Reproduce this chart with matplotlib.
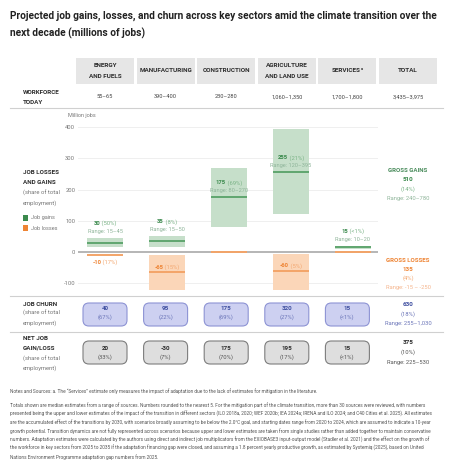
import matplotlib
matplotlib.use('Agg')
import matplotlib.pyplot as plt
from matplotlib import font_manager
from matplotlib.patches import FancyBboxPatch, Rectangle
from matplotlib.transforms import offset_copy

# ---------------- data ----------------
sectors = ['ENERGY\nAND FUELS', 'MANUFACTURING', 'CONSTRUCTION', 'AGRICULTURE\nAND LAND USE', 'SERVICES']
sector_note = ['', '', '', '', 'a']
workforce = ['55–65', '390–400', '230–280', '1,060–1,350', '1,700–1,800']
workforce_total = '3,435–3,975'

gain_med = [30, 35, 175, 255, 15]
gain_low = [15, 15, 80, 120, 10]
gain_high = [45, 50, 270, 395, 20]
gain_share = ['50%', '8%', '69%', '21%', '<1%']

loss_med = [-10, -65, 0, -60, 0]
loss_top = [-10, -10, 0, -5, 0]
loss_bottom = [-10, -130, 0, -130, 0]
loss_share = ['17%', '15%', '', '5%', '']

churn = [40, 95, 175, 320, 15]
churn_share = ['67%', '22%', '69%', '27%', '<1%']
net = [20, -30, 175, 195, 15]
net_share = ['33%', '7%', '70%', '17%', '<1%']

gross_gain_value, gross_gain_share, gross_gain_range = 510, '14%', '240–780'
gross_loss_value, gross_loss_share, gross_loss_range = 135, '4%', '-15 – -250'
churn_total, churn_total_share, churn_total_range = 630, '18%', '255–1,030'
net_total, net_total_share, net_total_range = 375, '10%', '225–530'

yticks = [-100, 0, 100, 200, 300, 400]

title_lines = ['Projected job gains, losses, and churn across key sectors amid the climate transition over the',
               'next decade (millions of jobs)']
notes = [
    'Notes and Sources: a. The “Services” estimate only measures the impact of adaptation due to the lack of estimates for mitigation in the literature.',
    'Totals shown are median estimates from a range of sources. Numbers rounded to the nearest 5. For the mitigation part of the climate transition, more than 30 sources were reviewed, with numbers',
    'presented being the upper and lower estimates of the impact of the transition in different sectors (ILO 2018a, 2020; WEF 2020b; IEA 2024a; IRENA and ILO 2024; and C40 Cities et al. 2025). All estimates',
    'are the accumulated effect of the transitions by 2030, with scenarios broadly assuming to be below the 2.0°C goal, and starting dates range from 2020 to 2024, which are assumed to indicate a 10-year',
    'growth potential. Transition dynamics are not fully represented across scenarios because upper and lower estimates are taken from single studies rather than added together to maintain conservative',
    'numbers. Adaptation estimates were calculated by the authors using direct and indirect job multiplicators from the EXIOBASE3 input-output model (Stadler et al. 2021) and the effect on the growth of',
    'the workforce in key sectors from 2025 to 2035 if the adaptation financing gap were closed, and assuming a 1.8 percent yearly productive growth, as estimated by Systemiq (2025), based on United',
    'Nations Environment Programme adaptation gap numbers from 2025.',
]

# ---------------- fonts ----------------
names = {f.name for f in font_manager.fontManager.ttflist}
NARROW = 'Liberation Sans Narrow' in names
FONT = 'Liberation Sans Narrow' if NARROW else 'Roboto'
S = 1.08 if NARROW else 0.9
plt.rcParams['font.family'] = [FONT, 'DejaVu Sans']

# ---------------- colours ----------------
G_FILL, G_LINE, G_TXT, G_LIGHT, G_RANGE = '#c6dfca', '#4e9c60', '#3b8a4d', '#7cb488', '#8fb59a'
O_FILL, O_LINE, O_TXT, O_LIGHT, O_RANGE = '#fbd6b8', '#f3a468', '#ee8434', '#f3a871', '#f5b48c'
P_FILL, P_EDGE, P_TXT, P_LIGHT = '#cdd0f1', '#8d93d4', '#3f4fa0', '#6b75b8'
N_FILL, N_EDGE, N_TXT, N_LIGHT = '#dedede', '#7d7d7d', '#2e2e2e', '#555555'
DARK, GRAY = '#2e2e2e', '#777777'

W, H = 455, 463
fig = plt.figure(figsize=(W / 100, H / 100), dpi=100)
renderer = fig.canvas.get_renderer()


def fx(x):
    return x / W


def fy(y):
    return 1 - y / H


def ftext(x, y, s, **kw):
    kw.setdefault('va', 'center')
    return fig.text(fx(x), fy(y), s, **kw)


def rich(x, y, parts, tr=None, dy=0):
    """parts: list of (string, kwargs, dy_px); centred horizontally at x."""
    tr = tr or fig.transFigure
    arts, widths = [], []
    for s, kw, _ in parts:
        t = fig.text(x, y, s, ha='left', va='center', **kw)
        widths.append(t.get_window_extent(renderer).width)
        arts.append(t)
    left = -sum(widths) / 2
    for t, w, (_, _, ddy) in zip(arts, widths, parts):
        t.set_transform(offset_copy(tr, fig=fig, x=left, y=dy + ddy, units='dots'))
        left += w
    return arts


# ---------------- title ----------------
TS = 9.2 if NARROW else 7.3
ftext(10, 16, title_lines[0], fontsize=TS, weight='bold', color='#222222')
ftext(10, 33, title_lines[1], fontsize=TS, weight='bold', color='#222222')

# ---------------- header ----------------
col_c = [105 + 60.6 * i for i in range(6)]
for i, c in enumerate(col_c):
    fig.patches.append(Rectangle((fx(c - 29), fy(84)), 58 / W, 26 / H, transform=fig.transFigure,
                                 facecolor='#e6e6e6', edgecolor='none'))
    label = (sectors + ['TOTAL'])[i]
    lines = label.split('\n')
    note = (sector_note + [''])[i]
    for k, ln in enumerate(lines):
        yy = 71 + (k - (len(lines) - 1) / 2) * 10.6
        if note and k == len(lines) - 1:
            rich(fx(c), fy(yy), [(ln, dict(fontsize=5.1 * S, weight='bold', color=DARK), 0),
                                 (note, dict(fontsize=3.2 * S, weight='bold', color=DARK), 2)])
        else:
            ftext(c, yy, ln, fontsize=5.1 * S, weight='bold', color=DARK, ha='center')

ftext(23, 93, 'WORKFORCE', fontsize=5.0 * S, weight='bold', color=DARK)
ftext(23, 102, 'TODAY', fontsize=5.0 * S, weight='bold', color=DARK)
for i, c in enumerate(col_c):
    ftext(c, 97, (workforce + [workforce_total])[i], fontsize=4.5 * S, color='#444444', ha='center')

# separators
for yy in (108, 296, 332):
    fig.add_artist(plt.Line2D([fx(10), fx(443)], [fy(yy), fy(yy)], color='#d0d0d0', lw=0.8,
                              transform=fig.transFigure))

# ---------------- chart ----------------
ymin, ymax = -120, 405
y0px = 252
ppu = 31.25 / 100
ax_top = y0px - ymax * ppu
ax_bot = y0px - ymin * ppu
ax = fig.add_axes([fx(78), fy(ax_bot), 300 / W, (ax_bot - ax_top) / H])
ax.set_ylim(ymin, ymax)
ax.set_xlim((78 - 105) / 62, (378 - 105) / 62)
for sp in ax.spines.values():
    sp.set_visible(False)
ax.set_xticks([])
ax.set_yticks(yticks)
ax.set_yticklabels([str(t) for t in yticks])
ax.tick_params(axis='y', length=0, pad=2, labelsize=4.6 * S, labelcolor=GRAY)
for t in yticks:
    if t != 0:
        ax.axhline(t, color='#efefef', lw=0.7, zorder=0)
ax.axhline(0, color='#a9a9a9', lw=1.2, zorder=1)
ax.patch.set_visible(False)

xs = list(range(len(sectors)))
bw = 0.58
ax.bar(xs, [h - l for h, l in zip(gain_high, gain_low)], bottom=gain_low, width=bw,
       color=G_FILL, edgecolor='none', zorder=2)
ax.hlines(gain_med, [x - bw / 2 for x in xs], [x + bw / 2 for x in xs], color=G_LINE, lw=1.2, zorder=3)
ax.bar(xs, [t - b for t, b in zip(loss_top, loss_bottom)], bottom=loss_bottom, width=bw,
       color=O_FILL, edgecolor='none', zorder=2)
ax.hlines(loss_med, [x - bw / 2 for x in xs], [x + bw / 2 for x in xs], color=O_LINE, lw=1.4, zorder=3)

for i, x in enumerate(xs):
    anchor = gain_med[i] if gain_high[i] - gain_med[i] > 50 else gain_high[i]
    rich(x, anchor, [('Range: %d–%d' % (gain_low[i], gain_high[i]),
                      dict(fontsize=4.5 * S, color=G_RANGE), 0)], tr=ax.transData, dy=6.5)
    rich(x, anchor, [(str(gain_med[i]), dict(fontsize=4.7 * S, weight='bold', color=G_TXT), 0),
                     (' (%s)' % gain_share[i], dict(fontsize=4.7 * S, color=G_LIGHT), 0)],
         tr=ax.transData, dy=14.5)
    if loss_share[i]:
        dy = -7 if loss_top[i] == loss_bottom[i] else 5
        rich(x, loss_med[i], [(str(loss_med[i]), dict(fontsize=4.7 * S, weight='bold', color=O_TXT), 0),
                              (' (%s)' % loss_share[i], dict(fontsize=4.7 * S, color=O_LIGHT), 0)],
             tr=ax.transData, dy=dy)

ftext(68, 116, 'Million jobs', fontsize=4.4 * S, color=GRAY)

# left labels
ftext(23, 173, 'JOB LOSSES', fontsize=5.0 * S, weight='bold', color=DARK)
ftext(23, 183, 'AND GAINS', fontsize=5.0 * S, weight='bold', color=DARK)
ftext(23, 193, '(share of total', fontsize=4.7 * S, color=GRAY)
ftext(23, 203, 'employment)', fontsize=4.7 * S, color=GRAY)
for yy, col, lab in ((218, G_TXT, 'Job gains'), (228, O_TXT, 'Job losses')):
    fig.patches.append(Rectangle((fx(23), fy(yy + 2.7)), 5.4 / W, 5.4 / H, transform=fig.transFigure,
                                 facecolor=col, edgecolor='none'))
    ftext(31, yy, lab, fontsize=4.4 * S, color=GRAY)

# right: gross gains / losses
ftext(408, 170, 'GROSS GAINS', fontsize=4.9 * S, weight='bold', color='#4a8c5c', ha='center')
ftext(408, 179.5, str(gross_gain_value), fontsize=5.0 * S, weight='bold', color=G_TXT, ha='center')
ftext(408, 189, '(%s)' % gross_gain_share, fontsize=4.7 * S, color=G_LIGHT, ha='center')
ftext(408, 198, 'Range: ' + gross_gain_range, fontsize=4.6 * S, color=G_RANGE, ha='center')
ftext(408, 261, 'GROSS LOSSES', fontsize=4.9 * S, weight='bold', color=O_TXT, ha='center')
ftext(408, 269.5, str(gross_loss_value), fontsize=5.0 * S, weight='bold', color=O_TXT, ha='center')
ftext(408, 278.5, '(%s)' % gross_loss_share, fontsize=4.7 * S, color=O_LIGHT, ha='center')
ftext(408, 288, 'Range: ' + gross_loss_range, fontsize=4.6 * S, color=O_RANGE, ha='center')

# ---------------- churn row ----------------
ftext(23, 304, 'JOB CHURN', fontsize=5.0 * S, weight='bold', color=DARK)
ftext(23, 313.5, '(share of total', fontsize=4.7 * S, color=GRAY)
ftext(23, 323, 'employment)', fontsize=4.7 * S, color=GRAY)


def pill(c, ytop, fill, edge):
    fig.patches.append(FancyBboxPatch((fx(c - 22), fy(ytop + 23)), 44 / W, 23 / H,
                                      boxstyle='round,pad=0,rounding_size=0.013',
                                      transform=fig.transFigure, facecolor=fill, edgecolor=edge, lw=0.8))


for i in range(len(sectors)):
    c = col_c[i]
    pill(c, 303, P_FILL, P_EDGE)
    ftext(c, 308.3, str(churn[i]), fontsize=5.0 * S, weight='bold', color=P_TXT, ha='center')
    ftext(c, 317.5, '(%s)' % churn_share[i], fontsize=4.7 * S, color=P_LIGHT, ha='center')
ftext(408, 304.3, str(churn_total), fontsize=5.0 * S, weight='bold', color=P_TXT, ha='center')
ftext(408, 314.3, '(%s)' % churn_total_share, fontsize=4.7 * S, color=P_LIGHT, ha='center')
ftext(408, 323.7, 'Range: ' + churn_total_range, fontsize=4.6 * S, color=P_LIGHT, ha='center')

# ---------------- net row ----------------
ftext(23, 338, 'NET JOB', fontsize=5.0 * S, weight='bold', color=DARK)
ftext(23, 348.5, 'GAIN/LOSS', fontsize=5.0 * S, weight='bold', color=DARK)
ftext(23, 358.5, '(share of total', fontsize=4.7 * S, color=GRAY)
ftext(23, 368, 'employment)', fontsize=4.7 * S, color=GRAY)
for i in range(len(sectors)):
    c = col_c[i]
    pill(c, 341, N_FILL, N_EDGE)
    ftext(c, 348.5, str(net[i]), fontsize=5.0 * S, weight='bold', color=N_TXT, ha='center')
    ftext(c, 357.5, '(%s)' % net_share[i], fontsize=4.7 * S, color=N_LIGHT, ha='center')
ftext(408, 342.7, str(net_total), fontsize=5.0 * S, weight='bold', color=N_TXT, ha='center')
ftext(408, 352.3, '(%s)' % net_total_share, fontsize=4.7 * S, color=N_LIGHT, ha='center')
ftext(408, 362.3, 'Range: ' + net_total_range, fontsize=4.6 * S, color=N_LIGHT, ha='center')

# ---------------- notes ----------------
NS = 4.03 if NARROW else 3.45
note_y = [391, 405, 413.7, 422.3, 431, 439.7, 448.3, 457]
for yy, ln in zip(note_y, notes):
    ftext(10, yy, ln, fontsize=NS, color='#555555')

fig.savefig('out.png', dpi=100)
